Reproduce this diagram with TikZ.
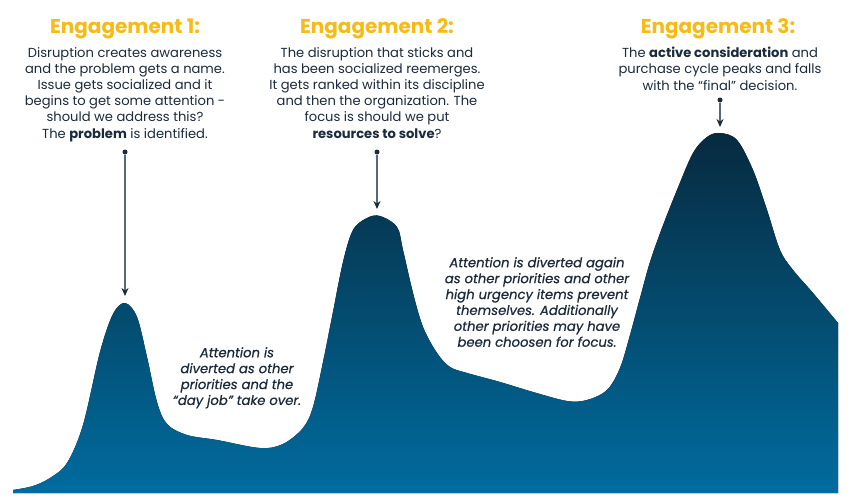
\documentclass[tikz,border=0pt]{standalone}
\usepackage{fontspec}
\setmainfont{Poppins}
\newfontfamily\notefont{Poppins}[FakeBold=0.6]
\usetikzlibrary{arrows.meta}
\definecolor{gold}{HTML}{F6BB17}
\definecolor{ink}{HTML}{1B2B3B}
\definecolor{topblue}{HTML}{072A3F}
\definecolor{botblue}{HTML}{006C9F}
\definecolor{stem}{HTML}{56687A}
\begin{document}
\begin{tikzpicture}[x=1pt,y=-1pt,
 title/.style={font=\fontsize{20}{22}\selectfont\bfseries, text=gold, inner sep=0pt, anchor=base},
 body/.style={font=\fontsize{13.1}{16.2}\selectfont, text=ink, align=center, inner sep=0pt, anchor=north},
 note/.style={font=\notefont\fontsize{13.2}{15.9}\selectfont\itshape, text=ink, align=center, inner sep=0pt, anchor=north},
 dotn/.style={circle, fill=ink, minimum size=5pt, inner sep=0pt},
 pointer/.style={draw=stem, line width=1.4pt, -{Stealth[length=8pt,width=7pt,color=ink]}}]
\fill[white] (0,0) rectangle (850,503);
\useasboundingbox (0,0) rectangle (850,503);
% mountain
\fill[top color=topblue, bottom color=botblue] (13,493) -- plot[smooth, tension=0.55] coordinates {
 (13,490) (33,486) (50,478) (67,463) (83,425) (100,352) (113,314) (125,303) (137,317) (147,357)
 (157,402) (167,424) (187,435) (217,440) (260,448) (283,444) (303,428) (313,407) (323,362)
 (332,317) (343,262) (353,230) (367,218) (380,216) (397,227) (403,250) (413,293) (423,327)
 (437,353) (450,367) (467,373) (500,382) (533,392) (567,401) (587,400) (607,390) (620,368)
 (630,335) (640,298) (650,262) (662,228) (677,190) (693,153) (707,137) (720,133) (737,140)
 (753,170) (767,210) (780,250) (793,270) (813,293) (838,323)} -- (838,493) -- cycle;
% titles
\node[title] (h1) at (125,34) {Engagement 1:};
\node[title] (h2) at (377,34) {Engagement 2:};
\node[title] (h3) at (718,34) {Engagement 3:};
% bodies
\node[body] (b1) at (125,47) {Disruption creates awareness\\ and the problem gets a name.\\ Issue gets socialized and it\\ begins to get some attention -\\ should we address this?\\ The \textbf{problem} is identified.};
\node[body] (b2) at (377,47) {The disruption that sticks and\\ has been socialized reemerges.\\ It gets ranked within its discipline\\ and then the organization. The\\ focus is should we put\\ \textbf{resources to solve}?};
\node[body] (b3) at (720,47) {The \textbf{active consideration} and\\ purchase cycle peaks and falls\\ with the “final” decision.};
% notes
\node[note] (n1) at (237,347) {Attention is\\ diverted as other\\ priorities and the\\ “day job” take over.};
\node[note] (n2) at (537,257) {Attention is diverted again\\ as other priorities and other\\ high urgency items prevent\\ themselves. Additionally\\ other priorities may have\\ been choosen for focus.};
% pointers
\node[dotn] (d1) at (125,152) {};
\node[dotn] (d2) at (377,152) {};
\node[dotn] (d3) at (720,100) {};
\coordinate (e1) at (125,296);
\coordinate (e2) at (377,209);
\coordinate (e3) at (720,127);
\draw[pointer] (d1.south) -- (e1);
\draw[pointer] (d2.south) -- (e2);
\draw[pointer] (d3.south) -- (e3);
\end{tikzpicture}
\end{document}
